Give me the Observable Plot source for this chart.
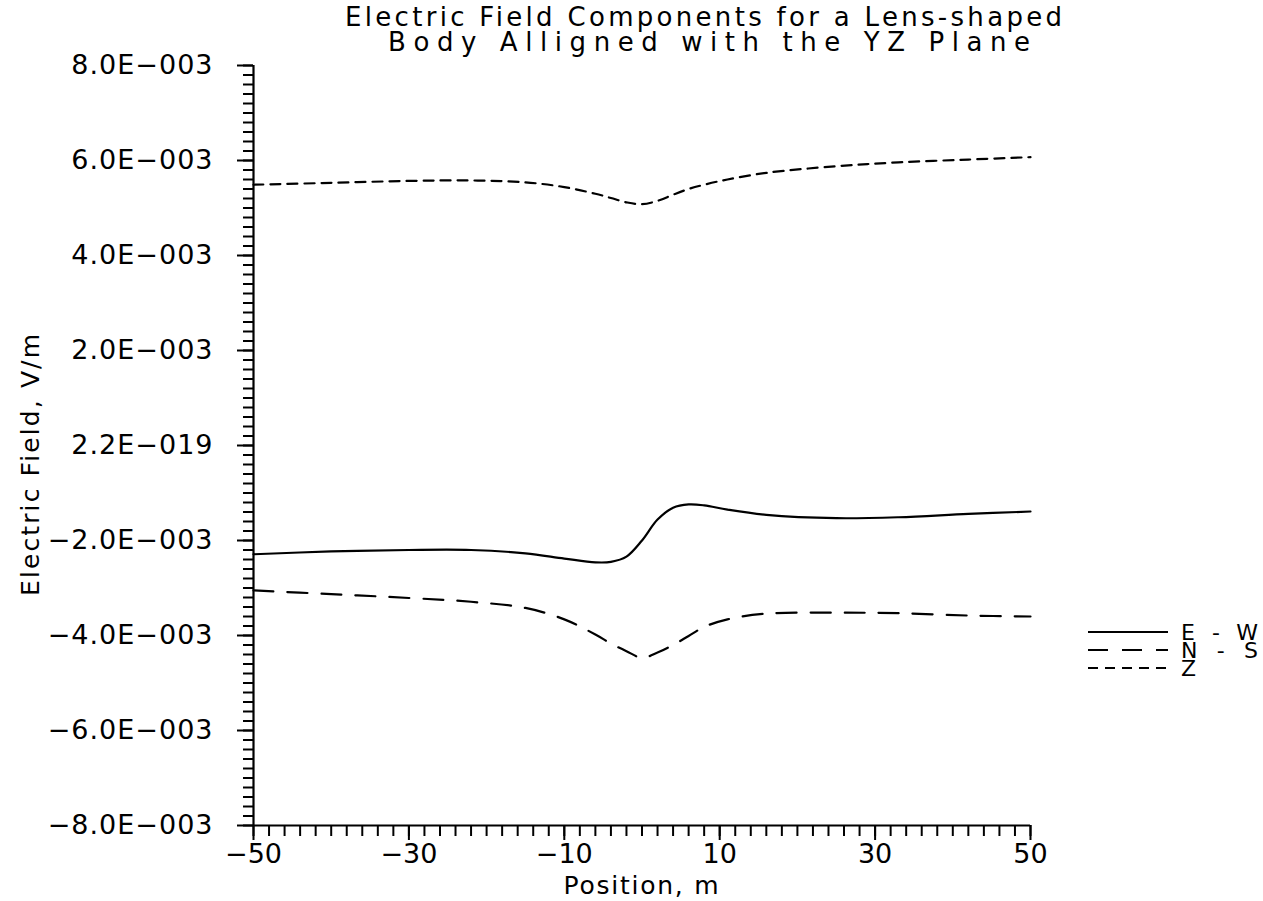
<!DOCTYPE html>
<html>
<head>
<meta charset="utf-8">
<script src="https://cdn.jsdelivr.net/npm/d3@7"></script>
<script src="https://cdn.jsdelivr.net/npm/@observablehq/plot@0.6"></script>
<style>
  html, body { margin: 0; padding: 0; background: #fff; }
  #chart svg { display: block; }
  #chart svg text { font-family: "DejaVu Sans", sans-serif; fill: #000; }
  g[aria-label="y-axis tick label"] text { font-size: 27px; letter-spacing: 1px; }
  g[aria-label="x-axis tick label"] text { font-size: 27px; }
</style>
</head>
<body>
<div id="chart"></div>
<script>
// ---- data ----
const positions = [-50, -40, -30, -22, -15, -10, -6, -4, -2, 0, 2, 4, 6, 8, 11, 16, 25, 33, 42, 50];
const ewField = [-0.00229, -0.00223, -0.00220, -0.00220, -0.00227, -0.00238, -0.00246, -0.00245, -0.00234, -0.00200,
                 -0.00156, -0.00131, -0.00124, -0.00126, -0.00135, -0.00146, -0.00153, -0.00151, -0.00144, -0.00139];
const nsField = [-0.00305, -0.00313, -0.00321, -0.00329, -0.00342, -0.00366, -0.00398, -0.00417, -0.00433, -0.00447,
                 -0.00436, -0.00420, -0.00401, -0.00382, -0.00366, -0.00354, -0.00352, -0.00353, -0.00358, -0.00360];
const zField  = [0.00549, 0.00553, 0.00557, 0.00558, 0.00554, 0.00544, 0.00530, 0.00521, 0.00512, 0.00508,
                 0.00515, 0.00528, 0.00540, 0.00549, 0.00560, 0.00574, 0.00588, 0.00596, 0.00602, 0.00607];

const seriesNames = ["E-W", "N-S", "Z"];
const seriesDash = ["none", "20,14", "10,7"];

const yMajorTicks = [-0.008, -0.006, -0.004, -0.002, 0, 0.002, 0.004, 0.006, 0.008];
const yTickLabels = ["\u22128.0E\u2212003", "\u22126.0E\u2212003", "\u22124.0E\u2212003", "\u22122.0E\u2212003", "2.2E\u2212019",
                     "2.0E\u2212003", "4.0E\u2212003", "6.0E\u2212003", "8.0E\u2212003"];
const xMajorTicks = [-50, -30, -10, 10, 30, 50];
const xTickLabels = ["\u221250", "\u221230", "\u221210", "10", "30", "50"];

const titleLines = ["Electric Field Components for a Lens-shaped", "Body Alligned with the YZ Plane"];
const xLabel = "Position, m";
const yLabel = "Electric Field, V/m";

// minor tick positions
const yMinorTicks = d3.range(-40, 41).map(k => k * 0.0002);
const xMinorTicks = d3.range(-25, 26).map(k => k * 2);

const toRows = vals => positions.map((x, i) => ({x, v: vals[i]}));
const seriesData = [toRows(ewField), toRows(nsField), toRows(zField)];

const W = 1263, H = 901;
const plot = Plot.plot({
  width: W, height: H,
  marginLeft: 253, marginRight: 233, marginTop: 65, marginBottom: 76,
  style: {background: "#fff", color: "#000", fontFamily: "DejaVu Sans"},
  x: {domain: [-50, 50], label: null},
  y: {domain: [-0.008, 0.008], label: null},
  marks: [
    Plot.axisY(yMinorTicks, {tickSize: 10, tickFormat: () => "", strokeWidth: 2, label: null}),
    Plot.axisY(yMajorTicks, {tickSize: 16, tickPadding: 24, strokeWidth: 2, label: null,
      tickFormat: d => yTickLabels[yMajorTicks.indexOf(d)]}),
    Plot.axisX(xMinorTicks, {tickSize: 11, tickFormat: () => "", strokeWidth: 2, label: null}),
    Plot.axisX(xMajorTicks, {tickSize: 15, tickPadding: 3, strokeWidth: 2, label: null,
      tickFormat: d => xTickLabels[xMajorTicks.indexOf(d)]}),
    Plot.ruleX([-50], {strokeWidth: 2.2}),
    Plot.ruleY([-0.008], {strokeWidth: 2.2}),
    ...seriesData.map((rows, i) => Plot.line(rows, {
      x: "x", y: "v", curve: "catmull-rom", stroke: "#000", strokeWidth: 2.2,
      strokeDasharray: seriesDash[i]
    }))
  ]
});
document.getElementById("chart").appendChild(plot);

// ---- title, axis labels and legend ----
const svg = d3.select(plot);
const tg = svg.append("g").attr("font-size", 26).attr("text-anchor", "start");
tg.append("text").attr("x", 345).attr("y", 26).attr("textLength", 717).attr("lengthAdjust", "spacing").text(titleLines[0]);
tg.append("text").attr("x", 388).attr("y", 51).attr("textLength", 642).attr("lengthAdjust", "spacing").text(titleLines[1]);

svg.append("text").attr("font-size", 25).attr("text-anchor", "middle").attr("x", 641).attr("y", 894)
  .attr("textLength", 155).attr("lengthAdjust", "spacing").text(xLabel);
svg.append("text").attr("font-size", 25).attr("text-anchor", "middle")
  .attr("transform", "translate(39,465) rotate(-90)")
  .attr("textLength", 262).attr("lengthAdjust", "spacing").text(yLabel);

const legendY = [632, 650, 668];
const lg = svg.append("g").attr("text-anchor", "start");
seriesNames.forEach((name, i) => {
  lg.append("line").attr("x1", 1088).attr("x2", 1168).attr("y1", legendY[i]).attr("y2", legendY[i])
    .attr("stroke", "#000").attr("stroke-width", 2)
    .attr("stroke-dasharray", seriesDash[i] === "none" ? null : seriesDash[i]);
  const t = lg.append("text").attr("font-size", 22).attr("x", 1181).attr("y", legendY[i] + 8).text(name);
  if (name.length > 1) t.attr("textLength", 77).attr("lengthAdjust", "spacing");
});
</script>
</body>
</html>
